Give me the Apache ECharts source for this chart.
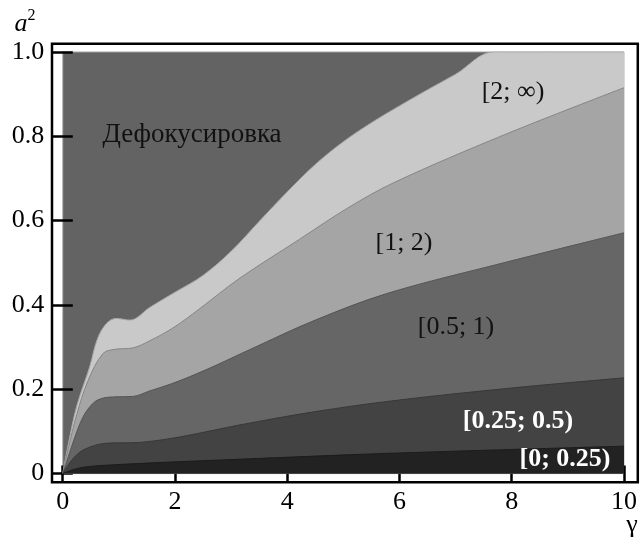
<!DOCTYPE html>
<html>
<head>
<meta charset="utf-8">
<script src="https://cdn.jsdelivr.net/npm/echarts@6/dist/echarts.min.js"></script>
<style>
html, body { margin: 0; padding: 0; background: #fff; }
#main { width: 640px; height: 545px; }
</style>
</head>
<body>
<div id="main"></div>
<script>
// boundaries between regions (gamma -> a^2)
var gammaTop = [0, 0.1, 0.25, 0.48, 0.62, 0.78, 0.95, 1.2, 1.55, 2.0, 2.5, 3.0, 3.5, 4.0, 4.5, 5.0, 5.5, 6.0, 6.5, 7.0, 7.68, 10];
var a2Top = [0, 0.07, 0.16, 0.253, 0.32, 0.356, 0.368, 0.364, 0.394, 0.43, 0.47, 0.527, 0.598, 0.668, 0.733, 0.787, 0.832, 0.872, 0.91, 0.947, 1.0, 1.0];

var gamma2 = [0, 0.1, 0.25, 0.45, 0.72, 0.95, 1.25, 1.55, 1.96, 2.43, 3.14, 4.2, 5.08, 5.9, 7.86, 10];
var a2Lvl2 = [0, 0.06, 0.14, 0.22, 0.285, 0.295, 0.298, 0.315, 0.345, 0.39, 0.462, 0.554, 0.63, 0.69, 0.803, 0.915];

var gamma1 = [0, 0.1, 0.2, 0.365, 0.55, 0.72, 0.95, 1.25, 1.55, 1.96, 2.55, 3.3, 4.5, 5.8, 7.86, 10];
var a2Lvl1 = [0, 0.04, 0.08, 0.135, 0.168, 0.179, 0.182, 0.183, 0.196, 0.214, 0.246, 0.292, 0.364, 0.428, 0.5, 0.571];

var gamma05 = [0, 0.15, 0.365, 0.78, 1.37, 1.96, 2.55, 3.14, 4.5, 5.9, 8, 10];
var a2Lvl05 = [0, 0.03, 0.056, 0.072, 0.074, 0.084, 0.099, 0.115, 0.147, 0.173, 0.203, 0.227];

var gamma025 = [0, 0.2, 0.48, 1.37, 3.14, 5.8, 10];
var a2Lvl025 = [0, 0.01, 0.017, 0.024, 0.034, 0.048, 0.065];

var regionNames = ['Дефокусировка', '[2; ∞)', '[1; 2)', '[0.5; 1)', '[0.25; 0.5)', '[0; 0.25)'];
var yTickLabels = ['0', '0.2', '0.4', '0.6', '0.8', '1.0'];

var serif = '"Liberation Serif"';

function pairs(xs, ys) {
	var out = [];
	for (var i = 0; i < xs.length; i++) {
		out.push([xs[i], ys[i]]);
	}
	return out;
}

function band(xs, ys, fill, line) {
	return {
		type : 'line',
		xAxisIndex : 1,
		yAxisIndex : 1,
		data : pairs(xs, ys),
		smooth : 0.35,
		symbol : 'none',
		silent : true,
		lineStyle : { width : 1, color : line },
		areaStyle : { color : fill, opacity : 1 }
	};
}

var tickStyle = { color : '#000', width : 2.5 };

function label(text, x, y, size, color, style) {
	return {
		type : 'text',
		x : x,
		y : y,
		z : 100,
		silent : true,
		style : {
			text : text,
			fill : color,
			font : (style || 'normal') + ' ' + size + 'px ' + serif,
			align : 'center',
			verticalAlign : 'middle',
			textAlign : 'center',
			textVerticalAlign : 'middle'
		}
	};
}

var option = {
	animation : false,
	backgroundColor : '#fff',
	textStyle : { fontFamily : serif },
	grid : [
		{ // outer frame
			left : 52, right : 2.2, top : 43.7, bottom : 62.7,
			show : true, borderColor : '#000', borderWidth : 2.5,
			backgroundColor : 'transparent'
		},
		{ // data area
			left : 62.7, right : 12.3, top : 51.9, bottom : 71.4,
			show : true, backgroundColor : '#636363',
			borderColor : '#b5b5b5', borderWidth : 1
		}
	],
	xAxis : [
		{ gridIndex : 0, type : 'value', show : false, min : 0, max : 1 },
		{
			gridIndex : 1, type : 'value', position : 'bottom',
			min : 0, max : 10, interval : 2,
			axisLine : { show : false },
			axisTick : { show : true, inside : false, length : 8.7, lineStyle : tickStyle },
			axisLabel : { fontSize : 26, fontFamily : serif, color : '#000', margin : 16 },
			splitLine : { show : false }
		},
		{
			gridIndex : 1, type : 'value', position : 'top',
			min : 0, max : 10, interval : 2,
			axisLine : { show : false },
			axisTick : { show : true, inside : false, length : 8.2, lineStyle : tickStyle },
			axisLabel : { show : false },
			splitLine : { show : false }
		}
	],
	yAxis : [
		{ gridIndex : 0, type : 'value', show : false, min : 0, max : 1 },
		{
			gridIndex : 1, type : 'value', position : 'left',
			min : 0, max : 1, interval : 0.2,
			axisLine : { show : false },
			axisTick : { show : true, inside : false, length : 10.7, lineStyle : tickStyle },
			axisLabel : {
				fontSize : 26, fontFamily : serif, color : '#000', margin : 18.5,
				formatter : function(v) { return yTickLabels[Math.round(v / 0.2)]; }
			},
			splitLine : { show : false }
		},
		{
			gridIndex : 1, type : 'value', position : 'right',
			min : 0, max : 1, interval : 0.2,
			axisLine : { show : false },
			axisTick : { show : true, inside : false, length : 10.1, lineStyle : tickStyle },
			axisLabel : { show : false },
			splitLine : { show : false }
		}
	],
	series : [
		band(gammaTop, a2Top, '#c9c9c9', '#a8a8a8'),
		band(gamma2, a2Lvl2, '#a5a5a5', '#858585'),
		band(gamma1, a2Lvl1, '#666666', '#555555'),
		band(gamma05, a2Lvl05, '#434343', '#383838'),
		band(gamma025, a2Lvl025, '#222222', '#1c1c1c')
	],
	graphic : [
		label(regionNames[0], 192, 135, 27, '#111'),
		label(regionNames[1], 513, 92, 26, '#111'),
		label(regionNames[2], 404, 243, 26, '#111'),
		label(regionNames[3], 456, 327, 26, '#111'),
		label(regionNames[4], 518, 421, 26, '#fff', 'bold'),
		label(regionNames[5], 565, 459, 26, '#fff', 'bold'),
		label('a', 21, 24.5, 26, '#000', 'italic'),
		label('2', 31.5, 16, 16, '#000'),
		label('γ', 632, 525.5, 26, '#000')
	]
};

var myChart = echarts.init(document.getElementById('main'));
myChart.setOption(option);
</script>
</body>
</html>
